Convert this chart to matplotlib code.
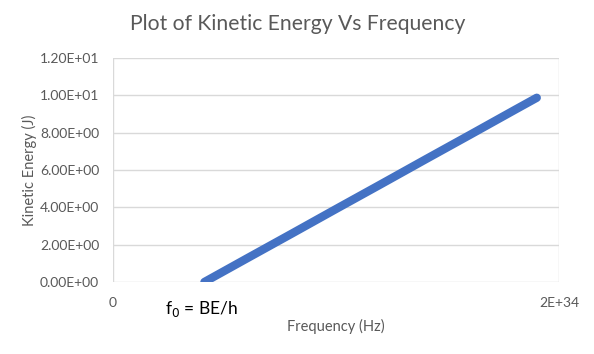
import matplotlib.pyplot as plt
from matplotlib.ticker import FixedLocator

# values
frequency = [4.1e33, 6.0e33, 8.0e33, 1.0e34, 1.2e34, 1.4e34, 1.6e34, 1.8e34, 1.9e34]
kinetic_energy = [0.0, 1.26, 2.58, 3.91, 5.23, 6.56, 7.88, 9.21, 9.87]
y_ticks = [0, 2, 4, 6, 8, 10, 12]
x_ticks = [0, 2e34]
x_tick_labels = ['0', '2E+34']

plt.rcParams['font.family'] = ['Lato', 'DejaVu Sans']
grey = '#595959'

fig = plt.figure(figsize=(5.94, 3.54), dpi=100)
ax = fig.add_axes([0.1902, 0.2034, 0.751, 0.6328])

ax.plot(frequency, kinetic_energy, color='#4472C4', lw=6,
        solid_capstyle='round', zorder=3)

ax.set_xlim(0, 2e34)
ax.set_ylim(0, 12)
ax.yaxis.set_major_locator(FixedLocator(y_ticks))
ax.set_yticklabels(['%.2E' % v for v in y_ticks])
ax.set_xticks(x_ticks)
ax.set_xticklabels(x_tick_labels)
ax.tick_params(axis='y', length=0, pad=10, labelsize=10, labelcolor=grey)
ax.tick_params(axis='x', length=0, pad=11, labelsize=10, labelcolor=grey)

ax.grid(True, color='#D9D9D9', lw=1)
for s in ax.spines.values():
    s.set_visible(False)

ax.set_title('Plot of Kinetic Energy Vs Frequency', fontsize=15.2, color=grey,
             pad=20, x=0.413)
ax.set_xlabel('Frequency (Hz)', fontsize=10.5, color=grey, labelpad=7)
ax.set_ylabel('Kinetic Energy (J)', fontsize=10.5, color=grey, labelpad=2)

fig.text(0.277, 0.127, 'f$_0$ = BE/h', fontsize=12.5, color='black',
         va='center', ha='left')

fig.savefig('out.png', dpi=100)
